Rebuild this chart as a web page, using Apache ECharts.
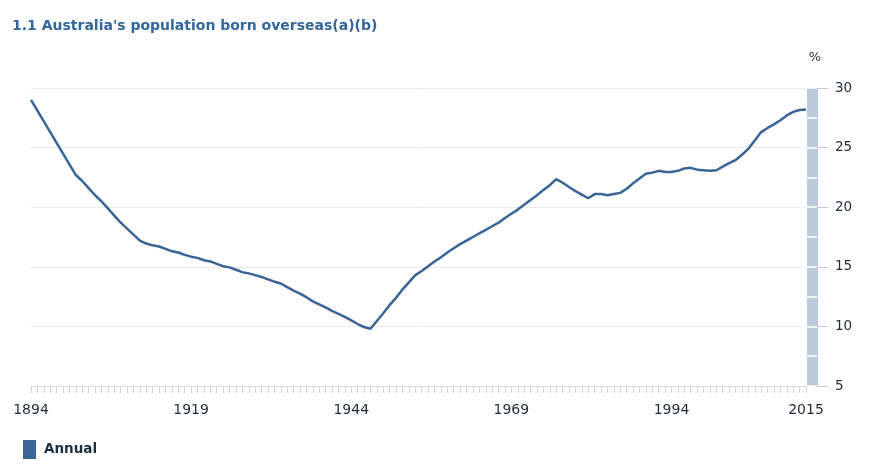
<!DOCTYPE html>
<html>
<head>
<meta charset="utf-8">
<script src="https://cdn.jsdelivr.net/npm/echarts@6/dist/echarts.min.js"></script>
<style>
html,body{margin:0;padding:0;background:#fff;}
#chart{width:875px;height:472px;}
</style>
</head>
<body>
<div id="chart"></div>
<script>
var titleText = "1.1 Australia's population born overseas(a)(b)";
var seriesName = "Annual";
var startYear = 1894;
var annual = [
  29.0, 28.1, 27.2, 26.3, 25.4, 24.5, 23.6, 22.7, 22.2, 21.6,
  21.0, 20.5, 19.9, 19.3, 18.7, 18.2, 17.7, 17.2, 16.95, 16.8,
  16.7, 16.5, 16.3, 16.2, 16.0, 15.85, 15.75, 15.55, 15.45, 15.25,
  15.05, 14.95, 14.75, 14.55, 14.45, 14.3, 14.15, 13.95, 13.75, 13.6,
  13.3, 13.0, 12.75, 12.45, 12.1, 11.85, 11.6, 11.3, 11.05, 10.8,
  10.5, 10.2, 9.95, 9.8, 10.45, 11.1, 11.8, 12.4, 13.1, 13.7,
  14.3, 14.65, 15.05, 15.45, 15.8, 16.2, 16.55, 16.9, 17.2, 17.5,
  17.8, 18.1, 18.4, 18.7, 19.1, 19.45, 19.8, 20.2, 20.6, 21.0,
  21.45, 21.85, 22.35, 22.05, 21.7, 21.35, 21.05, 20.75, 21.1, 21.1,
  21.0, 21.1, 21.2, 21.55, 22.0, 22.4, 22.8, 22.9, 23.05, 22.95,
  22.95, 23.05, 23.25, 23.3, 23.15, 23.1, 23.05, 23.1, 23.4, 23.7,
  23.95, 24.4, 24.9, 25.6, 26.3, 26.65, 26.95, 27.3, 27.7, 28.0,
  28.15, 28.2
];
var years = annual.map(function (v, i) { return String(startYear + i); });
var xTickLabels = ['1894', '1919', '1944', '1969', '1994', '2015'];
var yMin = 5, yMax = 30, yInterval = 5, yMinorInterval = 2.5;

var chart = echarts.init(document.getElementById('chart'), null, {renderer: 'canvas'});
var fontFamily = 'DejaVu Sans, Verdana, sans-serif';
chart.setOption({
  animation: false,
  backgroundColor: '#ffffff',
  title: {
    text: titleText,
    left: 12,
    top: 19,
    padding: 0,
    textStyle: {color: '#336699', fontSize: 14, fontWeight: 'bold', fontFamily: fontFamily}
  },
  legend: {
    left: 23,
    top: 440,
    padding: 0,
    icon: 'rect',
    itemWidth: 13,
    itemHeight: 19,
    data: [seriesName],
    textStyle: {color: '#1a2e40', fontSize: 13.5, fontWeight: 'bold', fontFamily: fontFamily, padding: [0, 0, 0, 3]}
  },
  grid: {left: 31, right: 69, top: 88, bottom: 86, containLabel: false},
  xAxis: {
    type: 'category',
    data: years,
    boundaryGap: false,
    axisLine: {show: true, lineStyle: {color: '#d3dbe4', width: 1}},
    axisTick: {show: true, interval: 0, length: 7, lineStyle: {color: '#cdd6e0'}},
    axisLabel: {
      interval: function (idx, val) { return xTickLabels.indexOf(val) >= 0; },
      color: '#1f2d3a',
      fontSize: 14,
      fontFamily: fontFamily,
      margin: 17
    },
    splitLine: {show: false}
  },
  yAxis: [{
    type: 'value',
    position: 'right',
    offset: 6,
    min: yMin,
    max: yMax,
    interval: yInterval,
    name: '%',
    nameLocation: 'end',
    nameGap: 24,
    nameTextStyle: {color: '#1f2d3a', fontSize: 13, fontFamily: fontFamily, padding: [0, 0, 0, 6]},
    axisLine: {show: true, lineStyle: {color: '#bccbdb', width: 11, cap: 'butt'}},
    axisTick: {show: true, length: 16, lineStyle: {color: '#c8c8c8'}},
    axisLabel: {color: '#1f2d3a', fontSize: 13.5, fontFamily: fontFamily, margin: 23},
    splitLine: {show: true, lineStyle: {color: '#ebebeb'}}
  }, {
    type: 'value',
    position: 'right',
    offset: 1,
    min: yMin,
    max: yMax,
    interval: yMinorInterval,
    z: 5,
    axisLine: {show: false},
    axisTick: {show: true, length: 10, lineStyle: {color: '#ffffff', width: 1.5}},
    axisLabel: {show: false},
    splitLine: {show: false}
  }],
  series: [{
    name: seriesName,
    type: 'line',
    data: annual,
    yAxisIndex: 0,
    showSymbol: false,
    symbol: 'none',
    lineStyle: {color: '#386595', width: 2.5},
    itemStyle: {color: '#386595'},
    z: 3
  }]
});
</script>
</body>
</html>
